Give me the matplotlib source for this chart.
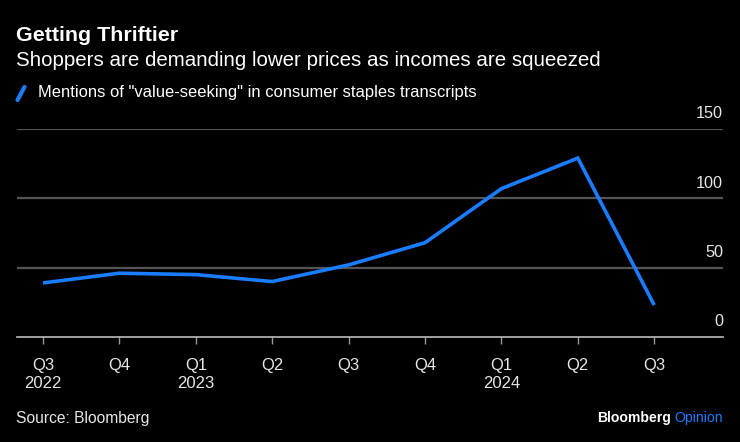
import matplotlib
matplotlib.use("Agg")
import matplotlib.pyplot as plt
from matplotlib.lines import Line2D

quarters = ["Q3\n2022", "Q4", "Q1\n2023", "Q2", "Q3", "Q4", "Q1\n2024", "Q2", "Q3"]
mentions = [39, 46, 45, 40, 52, 68, 107, 129, 23]
y_ticks = [0, 50, 100, 150]

title = "Getting Thriftier"
subtitle = "Shoppers are demanding lower prices as incomes are squeezed"
legend_label = 'Mentions of "value-seeking" in consumer staples transcripts'
source = "Source: Bloomberg"

BG = "#000000"
BLUE = "#1a7cff"
W, H = 740, 442

plt.rcParams['font.family'] = ['Liberation Sans', 'DejaVu Sans']

fig = plt.figure(figsize=(W / 100, H / 100), dpi=100, facecolor=BG)

left, right, bottom, top = 16.5, 723, 337, 129
ax = fig.add_axes([left / W, (H - bottom) / H, (right - left) / W, (bottom - top) / H])
ax.set_facecolor(BG)

x = list(range(len(mentions)))
ax.plot(x, mentions, color=BLUE, lw=2.6, solid_joinstyle='miter', solid_capstyle='butt', zorder=3)

ax.set_xlim(-0.347, 8.90)
ax.set_ylim(0, 150)

for v in y_ticks[1:]:
    ax.axhline(v, color="#555555", lw=1.6, zorder=1)
for v in y_ticks:
    ax.text(1.0, v + 5.5, str(v), transform=ax.get_yaxis_transform(), ha='right', va='bottom',
            color="#e6e6e6", fontsize=11.7)

for s in ["top", "left", "right"]:
    ax.spines[s].set_visible(False)
ax.spines["bottom"].set_color("#bbbbbb")
ax.spines["bottom"].set_linewidth(1.2)
ax.set_yticks([])
ax.set_xticks(x)
ax.set_xticklabels(quarters, color="#e6e6e6", fontsize=12, linespacing=1.3)
ax.tick_params(axis='x', length=5, width=1, color="#999999", pad=10)

fig.text(left / W, 1 - 35.5 / H, title, color="white", fontsize=15.4, fontweight='bold', va='center', ha='left')
fig.text(left / W, 1 - 60.5 / H, subtitle, color="white", fontsize=14.8, va='center', ha='left')
fig.add_artist(Line2D([17.5 / W, 24.5 / W], [1 - 100 / H, 1 - 87 / H], color=BLUE, lw=3,
                      solid_capstyle='round', transform=fig.transFigure))
fig.text(38 / W, 1 - 93 / H, legend_label, color="white", fontsize=11.9, va='center', ha='left')

fig.text(left / W, 1 - 418 / H, source, color="#e6e6e6", fontsize=11.25, va='center', ha='left')
t1 = fig.text(right / W, 1 - 418 / H, "Opinion", color=BLUE, fontsize=10.1, va='center', ha='right')
fig.canvas.draw()
bb = t1.get_window_extent()
fig.text((bb.x0 - 3) / W, 1 - 418 / H, "Bloomberg", color="white", fontsize=10.1, fontweight='bold',
         va='center', ha='right')

fig.savefig("out.png", dpi=100, facecolor=BG)
